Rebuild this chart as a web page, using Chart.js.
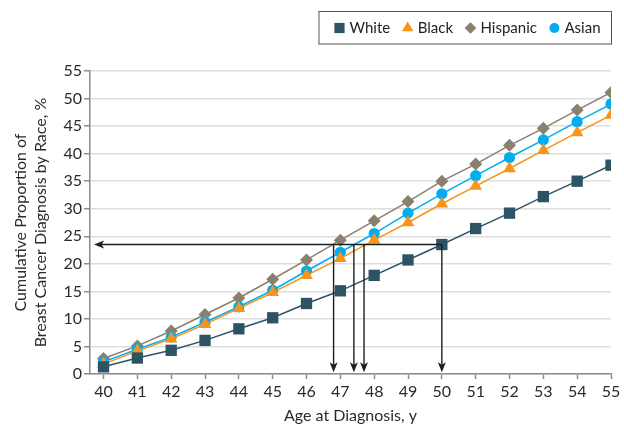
<!DOCTYPE html>
<html><head><meta charset="utf-8">
<script src="https://cdn.jsdelivr.net/npm/chart.js@4/dist/chart.umd.min.js"></script>
<style>html,body{margin:0;padding:0;background:#fff}</style>
</head><body>
<canvas id="c" width="624" height="424"></canvas>
<script>
// ---- data ----
const ages = [40,41,42,43,44,45,46,47,48,49,50,51,52,53,54,55];
const seriesNames = ['White','Black','Hispanic','Asian'];
const whiteVals    = [1.3,2.9,4.3,6.1,8.2,10.2,12.8,15.1,17.9,20.7,23.5,26.4,29.2,32.2,35.0,37.9];
const blackVals    = [1.8,4.2,6.4,9.0,11.9,14.8,17.9,21.0,24.3,27.5,30.9,34.1,37.3,40.6,43.8,47.0];
const hispanicVals = [2.8,5.1,7.8,10.8,13.8,17.2,20.7,24.3,27.8,31.3,35.0,38.1,41.5,44.6,47.9,51.1];
const asianVals    = [2.2,4.5,6.7,9.4,12.2,15.2,18.7,22.1,25.5,29.2,32.7,36.0,39.3,42.5,45.8,49.0];
const yTicks = [0,5,10,15,20,25,30,35,40,45,50,55];
const arrowLevel = 23.5;              // cumulative proportion reference level
const arrowAges = [46.8,47.4,47.7,50]; // ages where each race reaches the level
const arrowStart = 39.72;             // age where horizontal arrow ends
const arrowBottom = 0.3;

// ---- styles ----
const FONT = 'Lato';
const TXT = '#2b2b2b';
const AX = '#8c8c8c';
const styles = [
  {color:'#2c5465', style:'rect', r:8, order:1},
  {color:'#f7941d', style:'triangle', r:7.3, order:2},
  {color:'#8b7f6e', style:'rectRot', r:6.5, order:4},
  {color:'#00aeef', style:'circle', r:5.6, order:3}
];
const values = [whiteVals, blackVals, hispanicVals, asianVals];

const datasets = seriesNames.map((name,i)=>({
  label:name,
  data: ages.map((a,j)=>({x:a,y:values[i][j]})),
  borderColor: styles[i].color,
  backgroundColor: styles[i].color,
  pointBackgroundColor: styles[i].color,
  pointBorderColor: styles[i].color,
  pointBorderWidth: 0,
  pointStyle: styles[i].style,
  pointRadius: styles[i].r,
  borderWidth: 1.5,
  tension: 0,
  order: styles[i].order
}));

const arrowPlugin = {
  id:'arrows',
  afterDatasetsDraw(chart){
    const ctx = chart.ctx, xs = chart.scales.x, ys = chart.scales.y;
    const yL = ys.getPixelForValue(arrowLevel);
    const xR = xs.getPixelForValue(Math.max(...arrowAges));
    const xL = xs.getPixelForValue(arrowStart);
    const yB = ys.getPixelForValue(arrowBottom);
    ctx.save();
    ctx.strokeStyle = '#1e1e1e'; ctx.fillStyle = '#1e1e1e'; ctx.lineWidth = 1.4;
    ctx.beginPath(); ctx.moveTo(xR, yL); ctx.lineTo(xL+6, yL); ctx.stroke();
    ctx.beginPath(); ctx.moveTo(xL, yL); ctx.lineTo(xL+10, yL-4); ctx.lineTo(xL+7.5, yL); ctx.lineTo(xL+10, yL+4); ctx.closePath(); ctx.fill();
    arrowAges.forEach(a=>{
      const x = xs.getPixelForValue(a);
      ctx.beginPath(); ctx.moveTo(x, yL); ctx.lineTo(x, yB-6); ctx.stroke();
      ctx.beginPath(); ctx.moveTo(x, yB); ctx.lineTo(x-4, yB-10); ctx.lineTo(x, yB-7.5); ctx.lineTo(x+4, yB-10); ctx.closePath(); ctx.fill();
    });
    ctx.restore();
  }
};

const legendPlugin = {
  id:'boxLegend',
  afterDraw(chart){
    const ctx = chart.ctx;
    ctx.save();
    ctx.font = '15px ' + FONT;
    ctx.textBaseline = 'middle';
    const cy = 28, right = 611.5;
    let x = 600.5;
    const pos = [];
    for (let i = seriesNames.length-1; i >= 0; i--){
      const w = ctx.measureText(seriesNames[i]).width;
      const tx = x - w;
      const mx = tx - 10;
      pos[i] = {tx, mx};
      x = mx - 17.5;
    }
    const left = pos[0].mx - 20.5;
    ctx.strokeStyle = '#555'; ctx.lineWidth = 1;
    ctx.strokeRect(left, 11.5, right-left, 32.5);
    seriesNames.forEach((n,i)=>{
      ctx.fillStyle = styles[i].color;
      Chart.helpers.drawPoint(ctx, {pointStyle:styles[i].style, radius:styles[i].r*0.9, rotation:0, borderWidth:0}, pos[i].mx, cy);
      ctx.fillStyle = '#222';
      ctx.fillText(n, pos[i].tx, cy+0.5);
    });
    ctx.restore();
  }
};

new Chart(document.getElementById('c'), {
  type:'line',
  data:{datasets},
  options:{
    responsive:false, animation:false, devicePixelRatio:1,
    layout:{padding:{top:71,right:13,left:0,bottom:0}},
    plugins:{legend:{display:false}, tooltip:{enabled:false}},
    scales:{
      x:{
        type:'linear', min:39.6, max:55,
        afterBuildTicks:s=>{s.ticks = ages.map(v=>({value:v}));},
        afterFit:s=>{s.height = 50;},
        grid:{drawOnChartArea:false, drawTicks:true, tickLength:5, tickColor:AX, tickWidth:1.5},
        border:{color:AX, width:1.5},
        ticks:{font:{family:FONT,size:16}, color:TXT, padding:3, maxRotation:0, autoSkip:false},
        title:{display:true, text:'Age at Diagnosis, y', font:{family:FONT,size:16,lineHeight:1}, color:TXT, padding:{top:0,bottom:0}}
      },
      y:{
        min:0, max:55,
        afterBuildTicks:s=>{s.ticks = yTicks.map(v=>({value:v}));},
        afterFit:s=>{s.width = 90;},
        grid:{color:'#dedede', lineWidth:1.5, tickColor:AX, tickLength:6, tickWidth:1.5},
        border:{color:AX, width:1.5},
        ticks:{font:{family:FONT,size:16}, color:TXT, padding:2},
        title:{display:true, text:['Cumulative Proportion of','Breast Cancer Diagnosis by Race, %'], font:{family:FONT,size:16, lineHeight:1.25}, color:TXT, padding:{top:11,bottom:0}}
      }
    }
  },
  plugins:[arrowPlugin, legendPlugin]
});
</script>
</body></html>
